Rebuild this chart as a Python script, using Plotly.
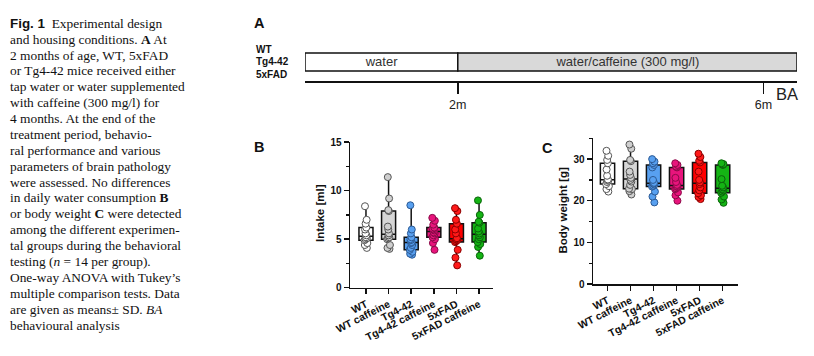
import numpy as np
import plotly.graph_objects as go

W, H = 814, 356

# ---------------- data ----------------
groups = ["WT", "WT caffeine", "Tg4-42", "Tg4-42 caffeine", "5xFAD", "5xFAD caffeine"]
box_fill = ["#ffffff", "#d6d6d6", "#58a0f0", "#e8147c", "#ff0000", "#14b414"]
pt_fill = ["#ffffff", "#cfcfcf", "#58a0f0", "#e8147c", "#ff1a1a", "#14b414"]
pt_line = ["#555555", "#555555", "#2c5a94", "#8a0a48", "#8a0000", "#0a640a"]

intake_wt = [4.1, 4.4, 4.6, 4.9, 5.0, 5.1, 5.2, 5.4, 5.6, 6.0, 6.2, 6.6, 7.0, 8.4]
intake_wt_caf = [4.0, 4.1, 4.4, 5.0, 5.1, 5.2, 5.4, 5.6, 6.0, 6.3, 7.9, 8.0, 9.2, 11.4]
intake_tg = [3.4, 3.5, 3.7, 3.9, 4.1, 4.4, 4.6, 4.7, 4.9, 5.0, 5.2, 5.6, 6.0, 8.5]
intake_tg_caf = [3.9, 4.6, 5.0, 5.2, 5.4, 5.6, 5.7, 5.9, 6.0, 6.1, 6.2, 6.5, 6.9, 7.2]
intake_fad = [2.3, 3.1, 3.9, 4.7, 4.8, 4.9, 5.0, 5.1, 5.6, 6.0, 6.6, 7.0, 7.9, 8.2]
intake_fad_caf = [3.3, 4.2, 4.5, 4.7, 5.0, 5.2, 5.4, 5.6, 5.8, 6.1, 6.7, 6.8, 7.5, 9.0]

bw_wt = [22.2, 22.8, 23.5, 24.0, 24.5, 24.8, 25.0, 25.1, 26.0, 27.5, 29.0, 29.8, 30.8, 32.0]
bw_wt_caf = [21.5, 22.3, 22.8, 22.9, 23.8, 24.6, 25.0, 25.5, 26.2, 27.0, 29.5, 29.8, 32.5, 33.5]
bw_tg = [19.6, 21.0, 22.2, 23.4, 23.6, 23.9, 24.1, 24.3, 25.0, 28.0, 28.6, 29.0, 29.4, 30.0]
bw_tg_caf = [20.0, 21.3, 22.0, 22.8, 23.0, 23.3, 23.5, 23.8, 24.5, 25.5, 28.0, 28.2, 28.6, 29.0]
bw_fad = [20.4, 20.9, 21.3, 21.8, 22.5, 23.2, 24.0, 24.4, 25.0, 27.0, 29.2, 29.6, 30.5, 31.3]
bw_fad_caf = [19.5, 20.3, 21.0, 21.9, 22.2, 22.5, 22.8, 23.2, 23.6, 25.2, 28.6, 28.7, 28.8, 29.0]

intake = [intake_wt, intake_wt_caf, intake_tg, intake_tg_caf, intake_fad, intake_fad_caf]
body_weight = [bw_wt, bw_wt_caf, bw_tg, bw_tg_caf, bw_fad, bw_fad_caf]

# timeline (months)
phase_labels = ["water", "water/caffeine (300 mg/l)"]
phase_start = [0, 2]
phase_end = [2, 6.44]
phase_fill = ["#ffffff", "#d9d9d9"]
time_ticks = [2, 6]
time_tick_text = ["2m", "6m"]
cohort_labels = ["WT", "Tg4-42", "5xFAD"]

caption_lines = [
    "<span style='font-family:Liberation Sans'><b>Fig. 1</b></span>  Experimental design",
    "and housing conditions. <b>A</b> At",
    "2 months of age, WT, 5xFAD",
    "or Tg4-42 mice received either",
    "tap water or water supplemented",
    "with caffeine (300 mg/l) for",
    "4 months. At the end of the",
    "treatment period, behavio-",
    "ral performance and various",
    "parameters of brain pathology",
    "were assessed. No differences",
    "in daily water consumption <b>B</b>",
    "or body weight <b>C</b> were detected",
    "among the different experimen-",
    "tal groups during the behavioral",
    "testing (<i>n</i> = 14 per group).",
    "One-way ANOVA with Tukey\u2019s",
    "multiple comparison tests. Data",
    "are given as means\u00b1 SD. <i>BA</i>",
    "behavioural analysis",
]

# ---------------- figure ----------------
def px_x(x):
    return x / W

def px_y(y):
    return 1 - y / H

fig = go.Figure()

def add_panel(data, xa, ya):
    for g, vals, bf in zip(groups, data, box_fill):
        v = np.array(vals, dtype=float)
        fig.add_trace(go.Box(
            x=[g], q1=[np.percentile(v, 25, method="hazen")],
            median=[np.percentile(v, 50, method="hazen")],
            q3=[np.percentile(v, 75, method="hazen")],
            lowerfence=[v.min()], upperfence=[v.max()],
            boxpoints=False, width=0.62, whiskerwidth=0,
            fillcolor=bf, line=dict(color="#111111", width=1.5),
            xaxis=xa, yaxis=ya, showlegend=False, hoverinfo="skip"))
    for g, vals, pf, pl in zip(groups, data, pt_fill, pt_line):
        fig.add_trace(go.Box(
            x=[g] * len(vals), y=vals, boxpoints="all", jitter=0.25, pointpos=0,
            width=0.62, whiskerwidth=0,
            fillcolor="rgba(0,0,0,0)", line=dict(color="rgba(0,0,0,0)", width=0),
            marker=dict(size=7, color=pf, line=dict(color=pl, width=1)),
            xaxis=xa, yaxis=ya, showlegend=False, hoverinfo="skip"))

add_panel(intake, "x", "y")
add_panel(body_weight, "x2", "y2")

# Panel A timeline bars
for lab, s, e, c in zip(phase_labels, phase_start, phase_end, phase_fill):
    fig.add_trace(go.Bar(
        x=[e - s], base=[s], y=[0.528], orientation="h", width=0.5,
        marker=dict(color=c, line=dict(color="#111111", width=1.5)),
        text=[lab], textposition="inside", insidetextanchor="middle",
        constraintext="none", textangle=0,
        textfont=dict(family="Liberation Sans, Arial", size=13, color="#333333"),
        xaxis="x3", yaxis="y3", showlegend=False, hoverinfo="skip"))

axis_font = dict(family="Liberation Sans, Arial", size=10, color="#111111", weight="bold")
common_x = dict(type="category", categoryorder="array", categoryarray=groups,
                showline=True, linewidth=1.5, linecolor="#111111", ticks="outside",
                ticklen=5, tickwidth=1.5, tickcolor="#111111", tickangle=-27,
                tickfont=dict(family="Liberation Sans, Arial", size=10.5, color="#111111",
                              weight="bold"),
                showgrid=False, zeroline=False, automargin=False)
common_y = dict(showline=True, linewidth=1.5, linecolor="#111111", ticks="outside",
                ticklen=5, tickwidth=1.5, tickcolor="#111111",
                tickfont=axis_font, showgrid=False, zeroline=False, automargin=False)

fig.update_layout(
    width=W, height=H, autosize=False,
    margin=dict(l=0, r=0, t=0, b=0, pad=0, autoexpand=False),
    paper_bgcolor="white", plot_bgcolor="white", boxmode="overlay",
    barmode="overlay", showlegend=False,
    xaxis=dict(domain=[px_x(350), px_x(493.3)], range=[-0.706, 5.63], anchor="y", **common_x),
    yaxis=dict(domain=[px_y(287.7), px_y(142.2)], range=[0, 15], tickvals=[0, 5, 10, 15],
               minor=dict(ticks="outside", ticklen=2.5, tickwidth=1.2, dtick=2.5, tickcolor="#111111"),
               anchor="x", **common_y),
    xaxis2=dict(domain=[px_x(593), px_x(738.3)], range=[-0.63, 5.68], anchor="y2", **common_x),
    yaxis2=dict(domain=[px_y(284), px_y(138.3)], range=[0, 35], tickvals=[0, 10, 20, 30],
                minor=dict(ticks="outside", ticklen=2.5, tickwidth=1.2, dtick=5, tickcolor="#111111"),
                anchor="x2", **common_y),
    xaxis3=dict(domain=[px_x(305), px_x(797)], range=[0, 6.44], anchor="y3",
                showline=True, linewidth=2, linecolor="#111111", ticks="outside",
                ticklen=11, tickwidth=1.5, tickcolor="#111111", tickvals=time_ticks,
                ticktext=time_tick_text, showgrid=False, zeroline=False, automargin=False,
                tickfont=dict(family="Liberation Sans, Arial", size=12.5, color="#222222")),
    yaxis3=dict(domain=[px_y(81), px_y(45)], range=[0, 1], visible=False, anchor="x3"),
)

ann = []
label_font = dict(family="Liberation Sans, Arial", size=14.5, color="#111111")
for t, x, y in [("<b>A</b>", 259.5, 23), ("<b>B</b>", 259, 147), ("<b>C</b>", 547, 148)]:
    ann.append(dict(text=t, x=px_x(x), y=px_y(y), xref="paper", yref="paper",
                    xanchor="center", yanchor="middle", showarrow=False, font=label_font))
for t, y in zip(cohort_labels, [49.3, 61.5, 74.5]):
    ann.append(dict(text="<b>%s</b>" % t, x=px_x(254), y=px_y(y), xref="paper", yref="paper",
                    xanchor="left", yanchor="middle", showarrow=False,
                    font=dict(family="Liberation Sans, Arial", size=10, color="#111111")))
ann.append(dict(text="BA", x=px_x(774), y=px_y(94), xref="paper", yref="paper",
                xanchor="left", yanchor="middle", showarrow=False,
                font=dict(family="Liberation Sans, Arial", size=16.5, color="#222222")))
for t, x, y in [("<b>Intake [ml]</b>", 320, 213), ("<b>Body weight [g]</b>", 562, 210.5)]:
    ann.append(dict(text=t, x=px_x(x), y=px_y(y), xref="paper", yref="paper", textangle=-90,
                    xanchor="center", yanchor="middle", showarrow=False,
                    font=dict(family="Liberation Sans, Arial", size=11.5, color="#111111")))
for i, line in enumerate(caption_lines):
    yc = 23.3 + i * 15.88
    ann.append(dict(text=line, x=px_x(8), y=px_y(yc), xref="paper", yref="paper",
                    xanchor="left", yanchor="middle", showarrow=False,
                    font=dict(family="Liberation Serif, Times New Roman", size=13.4, color="#111111")))
fig.update_layout(annotations=ann)

fig.write_html("out.html", config={"displayModeBar": False, "staticPlot": True},
               post_script="document.body.style.margin='0';document.body.style.padding='0';")
